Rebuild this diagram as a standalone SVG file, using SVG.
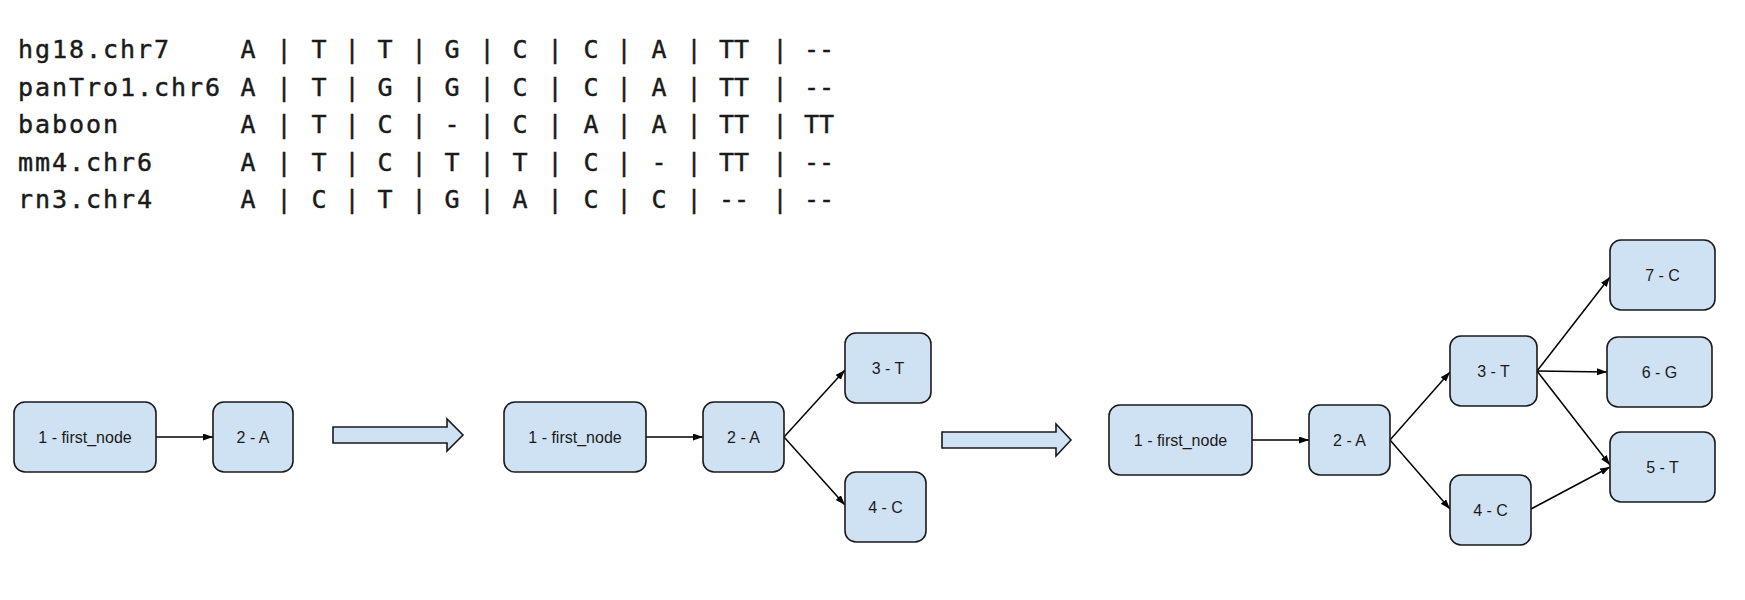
<svg xmlns="http://www.w3.org/2000/svg" width="1745" height="600" viewBox="0 0 1745 600">
  <style>
    .seq { font-family: "DejaVu Sans Mono", "Liberation Mono", monospace; font-size: 25px; fill: #1a1a1a; stroke: #1a1a1a; stroke-width: 0.45px; }
    .lbl { letter-spacing: 1.95px; }
    .cell { text-anchor: middle; }
    .node rect { fill: #cfe2f3; stroke: #1a1a1a; stroke-width: 1.6; }
    .node text { font-family: "Liberation Sans", Arial, sans-serif; font-size: 16px; fill: #1a1a1a; text-anchor: middle; }
    .edge { stroke: #000; stroke-width: 1.5; fill: none; marker-end: url(#head); }
    .step { fill: #cfe2f3; stroke: #1a1a1a; stroke-width: 1.6; stroke-linejoin: miter; }
  </style>
  <defs>
    <marker id="head" markerUnits="userSpaceOnUse" markerWidth="11" markerHeight="8" refX="10" refY="3.5" orient="auto">
      <path d="M0,0 L10,3.5 L0,7 z" fill="#000"/>
    </marker>
  </defs>
  <rect width="1745" height="600" fill="#fff"/>

  <!-- alignment table -->
  <g id="alignment" class="seq">
    <text class="lbl" x="18" y="58">hg18.chr7</text>
    <text class="lbl" x="18" y="96">panTro1.chr6</text>
    <text class="lbl" x="18" y="133">baboon</text>
    <text class="lbl" x="18" y="171">mm4.chr6</text>
    <text class="lbl" x="18" y="208">rn3.chr4</text>

    <!-- column separators -->
    <g class="cell">
      <text x="284" y="58">|</text><text x="352" y="58">|</text><text x="419" y="58">|</text><text x="487" y="58">|</text><text x="555" y="58">|</text><text x="624" y="58">|</text><text x="694" y="58">|</text><text x="780" y="58">|</text>
      <text x="284" y="96">|</text><text x="352" y="96">|</text><text x="419" y="96">|</text><text x="487" y="96">|</text><text x="555" y="96">|</text><text x="624" y="96">|</text><text x="694" y="96">|</text><text x="780" y="96">|</text>
      <text x="284" y="133">|</text><text x="352" y="133">|</text><text x="419" y="133">|</text><text x="487" y="133">|</text><text x="555" y="133">|</text><text x="624" y="133">|</text><text x="694" y="133">|</text><text x="780" y="133">|</text>
      <text x="284" y="171">|</text><text x="352" y="171">|</text><text x="419" y="171">|</text><text x="487" y="171">|</text><text x="555" y="171">|</text><text x="624" y="171">|</text><text x="694" y="171">|</text><text x="780" y="171">|</text>
      <text x="284" y="208">|</text><text x="352" y="208">|</text><text x="419" y="208">|</text><text x="487" y="208">|</text><text x="555" y="208">|</text><text x="624" y="208">|</text><text x="694" y="208">|</text><text x="780" y="208">|</text>
    </g>

    <!-- hg18.chr7 -->
    <g class="cell">
      <text x="248" y="58">A</text><text x="319" y="58">T</text><text x="385" y="58">T</text><text x="452" y="58">G</text><text x="520" y="58">C</text><text x="591" y="58">C</text><text x="659" y="58">A</text><text x="734" y="58">TT</text><text x="819" y="58">--</text>
    </g>
    <!-- panTro1.chr6 -->
    <g class="cell">
      <text x="248" y="96">A</text><text x="319" y="96">T</text><text x="385" y="96">G</text><text x="452" y="96">G</text><text x="520" y="96">C</text><text x="591" y="96">C</text><text x="659" y="96">A</text><text x="734" y="96">TT</text><text x="819" y="96">--</text>
    </g>
    <!-- baboon -->
    <g class="cell">
      <text x="248" y="133">A</text><text x="319" y="133">T</text><text x="385" y="133">C</text><text x="452" y="133">-</text><text x="520" y="133">C</text><text x="591" y="133">A</text><text x="659" y="133">A</text><text x="734" y="133">TT</text><text x="819" y="133">TT</text>
    </g>
    <!-- mm4.chr6 -->
    <g class="cell">
      <text x="248" y="171">A</text><text x="319" y="171">T</text><text x="385" y="171">C</text><text x="452" y="171">T</text><text x="520" y="171">T</text><text x="591" y="171">C</text><text x="659" y="171">-</text><text x="734" y="171">TT</text><text x="819" y="171">--</text>
    </g>
    <!-- rn3.chr4 -->
    <g class="cell">
      <text x="248" y="208">A</text><text x="319" y="208">C</text><text x="385" y="208">T</text><text x="452" y="208">G</text><text x="520" y="208">A</text><text x="591" y="208">C</text><text x="659" y="208">C</text><text x="734" y="208">--</text><text x="819" y="208">--</text>
    </g>
  </g>

  <!-- step arrows between the three graph stages -->
  <g id="steps">
    <path class="step" d="M333,427 H447 V419 L463,435 L447,451 V443 H333 Z"/>
    <path class="step" d="M942,432 H1056 V424 L1071,440 L1056,456 V448 H942 Z"/>
  </g>

  <!-- connectors -->
  <g id="connectors">
    <!-- stage 1 -->
    <line class="edge" x1="156" y1="437" x2="213" y2="437"/>
    <!-- stage 2 -->
    <line class="edge" x1="646" y1="437" x2="703" y2="437"/>
    <line class="edge" x1="784" y1="437" x2="845" y2="370"/>
    <line class="edge" x1="784" y1="437" x2="845" y2="505"/>
    <!-- stage 3 -->
    <line class="edge" x1="1252" y1="440" x2="1309" y2="440"/>
    <line class="edge" x1="1390" y1="440" x2="1450" y2="372"/>
    <line class="edge" x1="1390" y1="440" x2="1450" y2="509"/>
    <line class="edge" x1="1537" y1="371" x2="1610" y2="277"/>
    <line class="edge" x1="1537" y1="371" x2="1607" y2="372"/>
    <line class="edge" x1="1537" y1="371" x2="1610" y2="465"/>
    <line class="edge" x1="1531" y1="509" x2="1610" y2="467"/>
  </g>

  <!-- stage 1 nodes -->
  <g id="s1-n1" class="node"><rect x="14" y="402" width="142" height="70" rx="11"/><text x="85" y="443">1 - first_node</text></g>
  <g id="s1-n2" class="node"><rect x="213" y="402" width="80" height="70" rx="11"/><text x="253" y="443">2 - A</text></g>

  <!-- stage 2 nodes -->
  <g id="s2-n1" class="node"><rect x="504" y="402" width="142" height="70" rx="11"/><text x="575" y="443">1 - first_node</text></g>
  <g id="s2-n2" class="node"><rect x="703" y="402" width="81" height="70" rx="11"/><text x="743.5" y="443">2 - A</text></g>
  <g id="s2-n3" class="node"><rect x="845" y="333" width="86" height="70" rx="11"/><text x="888" y="374">3 - T</text></g>
  <g id="s2-n4" class="node"><rect x="845" y="472" width="81" height="70" rx="11"/><text x="885.5" y="513">4 - C</text></g>

  <!-- stage 3 nodes -->
  <g id="s3-n1" class="node"><rect x="1109" y="405" width="143" height="70" rx="11"/><text x="1180.5" y="446">1 - first_node</text></g>
  <g id="s3-n2" class="node"><rect x="1309" y="405" width="81" height="70" rx="11"/><text x="1349.5" y="446">2 - A</text></g>
  <g id="s3-n3" class="node"><rect x="1450" y="336" width="87" height="70" rx="11"/><text x="1493.5" y="377">3 - T</text></g>
  <g id="s3-n4" class="node"><rect x="1450" y="475" width="81" height="70" rx="11"/><text x="1490.5" y="516">4 - C</text></g>
  <g id="s3-n7" class="node"><rect x="1610" y="240" width="105" height="70" rx="11"/><text x="1662.5" y="281">7 - C</text></g>
  <g id="s3-n6" class="node"><rect x="1607" y="337" width="105" height="70" rx="11"/><text x="1659.5" y="378">6 - G</text></g>
  <g id="s3-n5" class="node"><rect x="1610" y="432" width="105" height="70" rx="11"/><text x="1662.5" y="473">5 - T</text></g>
</svg>
